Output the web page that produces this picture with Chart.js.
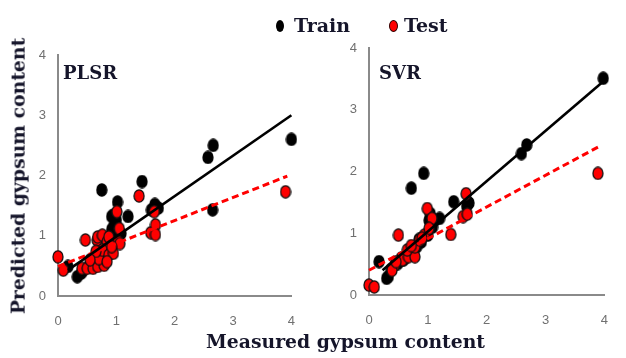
<!DOCTYPE html>
<html>
<head>
<meta charset="utf-8">
<script src="https://cdn.jsdelivr.net/npm/chart.js@4.4.1/dist/chart.umd.min.js"></script>
<style>
  html, body { margin:0; padding:0; background:#fff; }
  body { width:626px; height:358px; position:relative; overflow:hidden; }
  canvas { position:absolute; top:0; }
  .t { position:absolute; font-family:"DejaVu Serif", serif; font-weight:bold; color:#15152a; white-space:nowrap; line-height:1; }
  .dot { position:absolute; border-radius:50%; }
</style>
</head>
<body>
<canvas id="c1" width="313" height="358" style="left:0"></canvas>
<canvas id="c2" width="313" height="358" style="left:313px"></canvas>

<div class="dot" style="left:276px;top:20px;width:8px;height:12px;background:#000;"></div>
<div class="t" style="left:294px;top:16px;font-size:19px;">Train</div>
<div class="dot" style="left:389px;top:20px;width:9px;height:12px;background:#ff0000;border:1px solid #300;box-sizing:border-box;"></div>
<div class="t" style="left:404px;top:16px;font-size:19px;">Test</div>

<div class="t" style="left:63px;top:64px;font-size:18px;">PLSR</div>
<div class="t" style="left:379px;top:64px;font-size:18px;">SVR</div>

<div class="t" style="left:206px;top:332px;font-size:18.8px;">Measured gypsum content</div>
<div class="t" style="left:18px;top:176px;font-size:18.8px;transform:translate(-50%,-50%) rotate(-90deg);">Predicted gypsum content</div>

<script>
// ---- data ----
const tickValues = [0, 1, 2, 3, 4];

const plsrTrainX = [4.0, 2.66, 2.57, 2.65, 1.44, 0.75, 1.02, 1.20, 1.60, 1.66, 1.72, 0.95, 1.00, 0.92, 1.03, 0.98, 0.92, 0.95, 1.08, 0.33, 0.17, 0.44, 0.55, 0.62, 0.70, 0.80, 0.85, 0.90, 0.97, 1.05, 0.40];
const plsrTrainY = [2.60, 2.50, 2.30, 1.43, 1.90, 1.76, 1.56, 1.32, 1.43, 1.52, 1.46, 1.34, 1.26, 1.10, 1.04, 1.18, 1.32, 1.15, 1.04, 0.32, 0.49, 0.43, 0.52, 0.58, 0.68, 0.72, 0.85, 0.95, 1.00, 0.92, 0.38];

const plsrTestX = [0.00, 0.09, 0.47, 0.41, 0.50, 0.60, 0.68, 0.79, 0.70, 0.67, 0.68, 0.76, 0.84, 0.87, 0.76, 0.87, 0.95, 1.03, 1.06, 1.05, 1.01, 0.65, 0.84, 0.92, 0.55, 1.39, 1.59, 1.67, 1.67, 1.65, 3.90];
const plsrTestY = [0.65, 0.43, 0.93, 0.46, 0.46, 0.46, 0.49, 0.51, 0.62, 0.93, 0.98, 1.01, 0.90, 0.98, 0.76, 0.68, 0.71, 0.90, 0.87, 1.12, 1.40, 0.74, 0.57, 0.82, 0.60, 1.66, 1.05, 1.18, 1.02, 1.40, 1.73];

const svrTrainX = [3.98, 2.68, 2.59, 0.93, 0.72, 1.44, 1.70, 1.66, 1.20, 1.04, 1.12, 1.02, 0.17, 0.33, 0.38, 0.49, 0.59, 0.70, 0.81, 0.89, 1.00, 1.08, 0.30, 0.55, 0.75, 0.85];
const svrTrainY = [3.51, 2.43, 2.29, 1.97, 1.73, 1.51, 1.49, 1.44, 1.24, 1.32, 1.21, 1.21, 0.54, 0.30, 0.42, 0.51, 0.57, 0.67, 0.78, 0.86, 0.97, 1.10, 0.27, 0.60, 0.73, 0.90];

const svrTestX = [0.00, 0.09, 0.50, 0.99, 1.07, 1.39, 1.65, 1.60, 1.67, 3.89, 0.44, 0.39, 0.57, 0.67, 0.78, 0.65, 0.78, 0.86, 0.94, 1.02, 0.46, 0.72, 0.90];
const svrTestY = [0.16, 0.13, 0.97, 1.40, 1.24, 0.98, 1.64, 1.27, 1.31, 1.97, 0.49, 0.40, 0.57, 0.62, 0.62, 0.73, 0.78, 0.89, 0.97, 1.08, 0.54, 0.80, 0.92];

// trend line end points [x0, x1], [y0, y1]
const plsrTrainFitX = [0.17, 4.0], plsrTrainFitY = [0.43, 3.0];
const plsrTestFitX  = [0.0, 3.93], plsrTestFitY  = [0.49, 1.99];
const svrTrainFitX  = [0.23, 3.97], svrTrainFitY  = [0.40, 3.45];
const svrTestFitX   = [0.0, 3.90], svrTestFitY   = [0.40, 2.40];

// ---- helpers ----
function pts(xs, ys) { return xs.map((x, i) => ({ x: x, y: ys[i] })); }

function ellipse(fill, stroke) {
  const c = document.createElement('canvas');
  c.width = 12; c.height = 14;
  const g = c.getContext('2d');
  g.beginPath();
  g.ellipse(6, 7, 5, 6.2, 0, 0, Math.PI * 2);
  g.fillStyle = fill; g.fill();
  g.lineWidth = 1.3; g.strokeStyle = stroke; g.stroke();
  return c;
}
const blackDot = ellipse('#000000', '#000000');
const redDot = ellipse('#ff0000', '#111111');

const tickFont = { family: '"Liberation Sans Narrow", "Arial Narrow", "Liberation Sans", sans-serif', size: 13 };

function makeChart(id, trX, trY, teX, teY, ftrX, ftrY, fteX, fteY, yWidth, xHeight, padTop, padRight) {
  new Chart(document.getElementById(id), {
    type: 'scatter',
    data: {
      datasets: [
        { label: 'Train fit', data: pts(ftrX, ftrY), showLine: true, borderColor: '#000', borderWidth: 2.6, pointRadius: 0, clip: false },
        { label: 'Test fit', data: pts(fteX, fteY), showLine: true, borderColor: '#ff0000', borderWidth: 3, borderDash: [7, 4], pointRadius: 0, clip: false },
        { label: 'Test', data: pts(teX, teY), pointStyle: redDot, pointRadius: 6, clip: false },
        { label: 'Train', data: pts(trX, trY), pointStyle: blackDot, pointRadius: 6, clip: false }
      ]
    },
    options: {
      responsive: false,
      animation: false,
      layout: { padding: { left: 0, top: padTop, right: padRight, bottom: 0 } },
      plugins: { legend: { display: false }, tooltip: { enabled: false } },
      scales: {
        x: {
          type: 'linear', min: 0, max: 4,
          afterBuildTicks: s => { s.ticks = tickValues.map(v => ({ value: v })); },
          ticks: { color: '#707070', padding: 18, font: tickFont },
          grid: { display: false, drawTicks: false },
          border: { display: true, color: '#8a8a8a', width: 2 },
          afterFit: s => { s.height = xHeight; }
        },
        y: {
          type: 'linear', min: 0, max: 4,
          afterBuildTicks: s => { s.ticks = tickValues.map(v => ({ value: v })); },
          ticks: { color: '#707070', padding: 12, font: tickFont },
          grid: { display: false, drawTicks: false },
          border: { display: true, color: '#8a8a8a', width: 2 },
          afterFit: s => { s.width = yWidth; }
        }
      }
    }
  });
}

makeChart('c1', plsrTrainX, plsrTrainY, plsrTestX, plsrTestY, plsrTrainFitX, plsrTrainFitY, plsrTestFitX, plsrTestFitY, 58, 62, 55, 7);
makeChart('c2', svrTrainX, svrTrainY, svrTestX, svrTestY, svrTrainFitX, svrTrainFitY, svrTestFitX, svrTestFitY, 56, 63, 48, 4);
</script>
</body>
</html>
